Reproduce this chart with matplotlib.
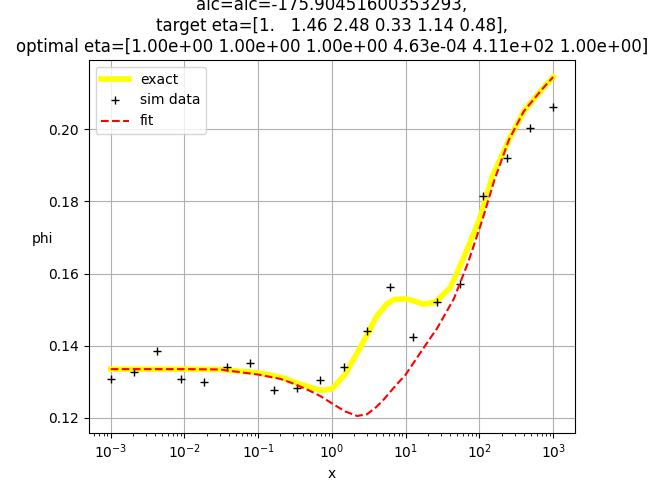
import matplotlib
matplotlib.use("Agg")
import matplotlib.pyplot as plt

# exact curve
x_exact = [1e-3, 3e-3, 1e-2, 3e-2, 0.1, 0.2, 0.3, 0.5, 0.7, 1.0, 1.5, 2.0, 2.5, 3.0, 4.0, 5.5, 7.0, 10, 14, 17, 25, 40, 60, 100, 150, 250, 400, 700, 1000]
y_exact = [0.1335, 0.1335, 0.1335, 0.1334, 0.1325, 0.1313, 0.1300, 0.1285, 0.1276, 0.1280, 0.1320, 0.1365, 0.1400, 0.1430, 0.1480, 0.1515, 0.1528, 0.1530, 0.1522, 0.1515, 0.1520, 0.1560, 0.1640, 0.1750, 0.1870, 0.1970, 0.2050, 0.2110, 0.2145]

# simulated data
x_sim = [1e-3, 2.07e-3, 4.28e-3, 8.86e-3, 1.83e-2, 3.79e-2, 7.85e-2, 0.162, 0.336, 0.695, 1.44, 2.98, 6.16, 12.7, 26.4, 54.6, 113, 234, 483, 1000]
y_sim = [0.1308, 0.1328, 0.1384, 0.1308, 0.1298, 0.1342, 0.1353, 0.1278, 0.1283, 0.1305, 0.1340, 0.1440, 0.1562, 0.1423, 0.1520, 0.1570, 0.1815, 0.1920, 0.2003, 0.2062]

# fitted curve
x_fit = [1e-3, 3e-3, 1e-2, 3e-2, 0.1, 0.2, 0.3, 0.5, 0.7, 1.0, 1.5, 2.2, 3.0, 4.0, 5.0, 7.0, 10, 17, 27, 45, 70, 110, 160, 250, 400, 700, 1000]
y_fit = [0.1335, 0.1335, 0.1335, 0.1334, 0.1320, 0.1308, 0.1295, 0.1275, 0.1260, 0.1240, 0.1218, 0.1205, 0.1210, 0.1230, 0.1250, 0.1285, 0.1320, 0.1390, 0.1450, 0.1530, 0.1630, 0.1750, 0.1860, 0.1970, 0.2050, 0.2110, 0.2145]

fig, ax = plt.subplots(figsize=(6.56, 4.92), dpi=100)
fig.subplots_adjust(left=0.135, right=0.877, top=0.878, bottom=0.12)
ax.plot(x_exact, y_exact, color="yellow", lw=4, label="exact")
ax.plot(x_sim, y_sim, "k+", label="sim data")
ax.plot(x_fit, y_fit, "r--", label="fit")
ax.set_xscale("log")
ax.set_xlabel("x")
ax.set_ylabel("phi", rotation=0)
ax.grid(True)
ax.legend(loc="upper left")
ax.set_title("aic=aic=-175.90451600353293,\n"
             "target eta=[1.   1.46 2.48 0.33 1.14 0.48],\n"
             "optimal eta=[1.00e+00 1.00e+00 1.00e+00 4.63e-04 4.11e+02 1.00e+00]")
fig.savefig("out.png")
